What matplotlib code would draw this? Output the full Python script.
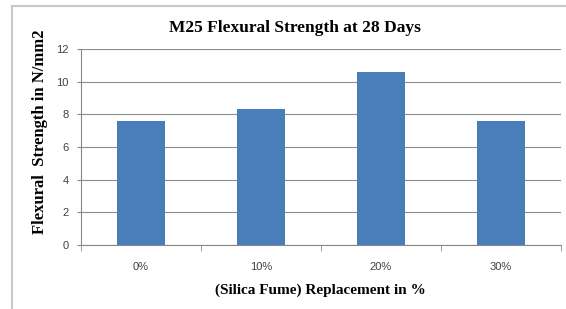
import matplotlib.pyplot as plt
from matplotlib.patches import Rectangle

categories = ['0%', '10%', '20%', '30%']
strength = [7.6, 8.35, 10.6, 7.6]
y_ticks = [0, 2, 4, 6, 8, 10, 12]

fig = plt.figure(figsize=(5.66, 3.09), dpi=100)
# outer chart frame
fig.patches.append(Rectangle((12 / 566, -0.05), 1.0, 1 - 6 / 309 + 0.05,
                             transform=fig.transFigure, fill=False,
                             edgecolor='#c8c8c8', linewidth=1.5))

ax = fig.add_axes([81 / 566, 1 - 245 / 309, 480 / 566, 196 / 309])
x = list(range(len(categories)))
ax.bar(x, strength, width=0.4, color='#4a7ebb', zorder=3)

ax.set_xlim(-0.5, len(categories) - 0.5)
ax.set_ylim(0, 12)
ax.set_yticks(y_ticks)
ax.set_yticklabels([str(t) for t in y_ticks], fontsize=8, color='#404040',
                   family='Liberation Sans')
ax.set_xticks(x)
ax.set_xticklabels(categories, fontsize=8, color='#404040',
                   family='Liberation Sans')
ax.tick_params(axis='x', length=0, pad=12)
ax.set_xticks([i + 0.5 for i in range(-1, len(categories))], minor=True)
ax.tick_params(axis='x', which='minor', length=4, color='#888888')
ax.tick_params(axis='y', length=3, color='#888888', pad=6)
ax.grid(axis='y', color='#8c8c8c', linewidth=0.8, zorder=0)

for s in ['top', 'right']:
    ax.spines[s].set_visible(False)
ax.spines['left'].set_color('#888888')
ax.spines['bottom'].set_color('#888888')

fig.text(295 / 566, 1 - 28 / 309, 'M25 Flexural Strength at 28 Days',
         family='Liberation Serif', fontweight='bold', fontsize=12.5,
         ha='center', va='center')
fig.text(320 / 566, 1 - 290 / 309, '(Silica Fume) Replacement in %',
         family='Liberation Serif', fontweight='bold', fontsize=11,
         ha='center', va='center')
fig.text(40 / 566, 1 - 132 / 309, 'Flexural  Strength in N/mm2',
         family='Liberation Serif', fontweight='bold', fontsize=12,
         rotation=90, ha='center', va='center')

fig.savefig('out.png', dpi=100)
